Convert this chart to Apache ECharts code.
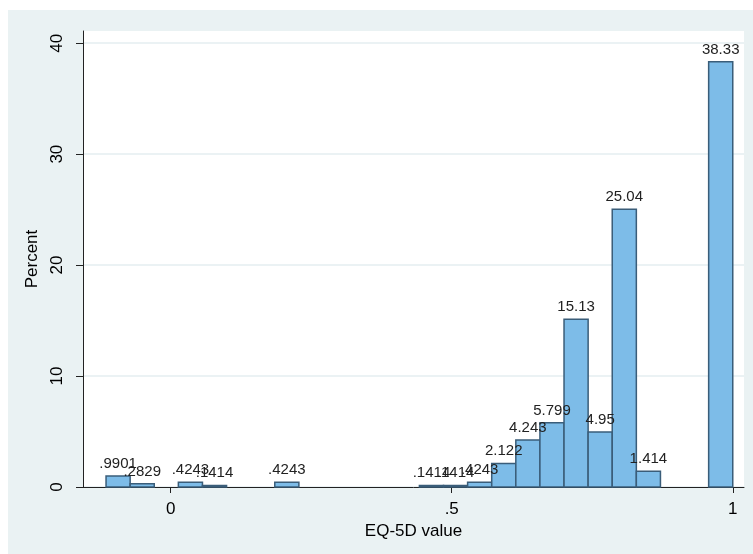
<!DOCTYPE html>
<html>
<head>
<meta charset="utf-8">
<script src="https://cdn.jsdelivr.net/npm/echarts@6/dist/echarts.min.js"></script>
<style>
  html, body { margin: 0; padding: 0; background: #ffffff; }
  #chart { position: absolute; left: 8px; top: 10px; width: 745px; height: 544px; }
</style>
</head>
<body>
<div id="chart"></div>
<script>
// Histogram of EQ-5D value (Percent per bin)
const binStart = -0.115;       // left edge of first bin
const binEnd = 1.0;            // right edge of last bin
const binCount = 26;
const percents = [0.9901, 0.2829, 0, 0.4243, 0.1414, 0, 0, 0.4243, 0, 0, 0, 0, 0,
                  0.1414, 0.1414, 0.4243, 2.122, 4.243, 5.799, 15.13, 4.95, 25.04, 1.414, 0, 0, 38.33];
const xTicks = [0, 0.5, 1];
const yTicks = [0, 10, 20, 30, 40];
const xTitle = 'EQ-5D value';
const yTitle = 'Percent';

const binWidth = (binEnd - binStart) / binCount;
const data = [];
percents.forEach(function (p, i) {
  if (p > 0) data.push([binStart + i * binWidth, binStart + (i + 1) * binWidth, p]);
});

function stataFmt(v) {
  let s = parseFloat(Number(v).toPrecision(4)).toString();
  return s.replace(/^0\./, '.').replace(/^-0\./, '-.');
}

const FONT = '"Liberation Sans", Arial, sans-serif';
const chart = echarts.init(document.getElementById('chart'));
chart.setOption({
  backgroundColor: '#eaf2f3',
  animation: false,
  grid: {
    left: 75, right: 9, top: 21, bottom: 67,
    show: true, backgroundColor: '#ffffff', borderWidth: 0
  },
  xAxis: {
    type: 'value', min: -0.156, max: 1.02,
    name: xTitle, nameLocation: 'middle', nameGap: 30,
    nameTextStyle: { fontFamily: FONT, fontSize: 17, color: '#000' },
    axisLine: { show: true, onZero: false, lineStyle: { color: '#222', width: 1 } },
    axisTick: { show: true, length: 6, customValues: xTicks, lineStyle: { color: '#222' } },
    axisLabel: { customValues: xTicks, margin: 14, fontFamily: FONT, fontSize: 17, color: '#000',
                 formatter: stataFmt },
    splitLine: { show: false }
  },
  yAxis: {
    type: 'value', min: 0, max: 41.1,
    name: yTitle, nameLocation: 'middle', nameGap: 36, nameRotate: 90,
    nameTextStyle: { fontFamily: FONT, fontSize: 17, color: '#000' },
    axisLine: { show: true, onZero: false, lineStyle: { color: '#222', width: 1 } },
    axisTick: { show: true, length: 7, customValues: yTicks, lineStyle: { color: '#222' } },
    axisLabel: { customValues: yTicks, rotate: 90, margin: 17, fontFamily: FONT, fontSize: 17, color: '#000' },
    splitLine: { show: true, lineStyle: { color: '#e4eef1', width: 1.5 } }
  },
  series: [{
    type: 'custom',
    data: data,
    encode: { x: [0, 1], y: 2 },
    renderItem: function (params, api) {
      const p0 = api.coord([api.value(0), api.value(2)]);
      const p1 = api.coord([api.value(1), 0]);
      return {
        type: 'rect',
        shape: { x: p0[0], y: p0[1], width: p1[0] - p0[0], height: p1[1] - p0[1] },
        style: { fill: '#7dbce8', stroke: '#3a5d79', lineWidth: 1.5 },
        textContent: {
          style: { text: stataFmt(api.value(2)), fontFamily: FONT, fontSize: 15, fill: '#222' }
        },
        textConfig: { position: 'top', distance: 4 }
      };
    }
  }]
});
</script>
</body>
</html>
